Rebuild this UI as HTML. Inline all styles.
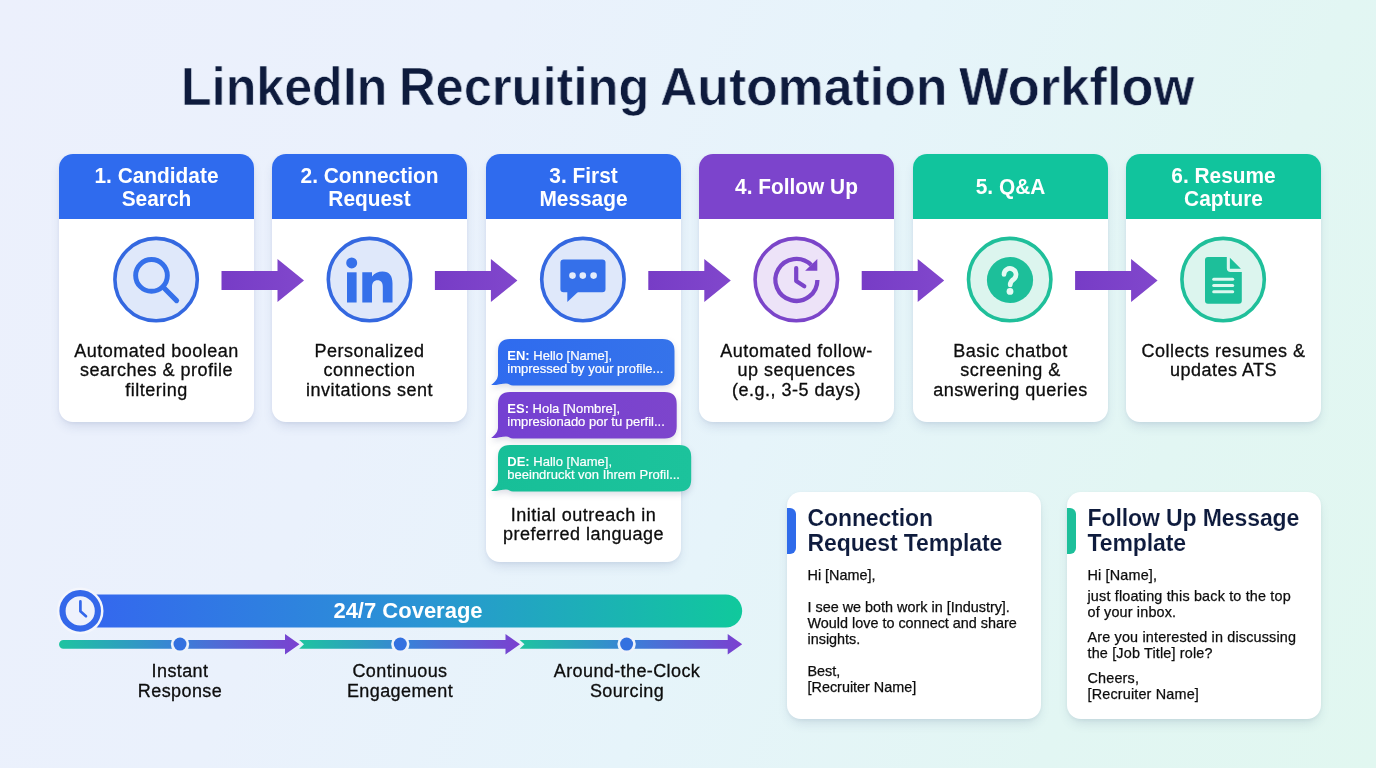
<!DOCTYPE html>
<html><head><meta charset="utf-8">
<style>
*{margin:0;padding:0;box-sizing:border-box}
html,body{width:1376px;height:768px;overflow:hidden}
body{position:relative;-webkit-font-smoothing:antialiased;font-family:"Liberation Sans",sans-serif;background:linear-gradient(112deg,#ecf0fc 0%,#eaf1fc 30%,#e6f4fa 55%,#e2f6f3 80%,#e1f7f0 100%);color:#111}
.abs{position:absolute}
body>div{will-change:transform}
.tw{position:absolute;transform-origin:0 50%;font-weight:700;color:#0e1b3d;white-space:nowrap;-webkit-text-stroke:0.7px #e9f1fb}
.card{position:absolute;top:154px;width:195px;background:#fff;border-radius:14px;box-shadow:0 6px 12px -3px rgba(50,70,130,0.17),0 1px 4px rgba(50,70,130,0.06);overflow:hidden}
.card .hd{position:absolute;left:0;top:0;width:100%;height:65px;color:#fff;font-weight:700;font-size:21px;text-align:center;line-height:22.7px}
.blue{background:#2f6bee}
.purple{background:#7c44cc}
.teal{background:#11c49d}
.desc{position:absolute;width:195px;text-align:center;color:#0d0d0d;white-space:nowrap;-webkit-text-stroke:0.3px #0d0d0d}
.tpl{position:absolute;top:492px;width:254px;height:227px;background:#fff;border-radius:14px;box-shadow:0 6px 12px -3px rgba(50,80,120,0.17),0 1px 4px rgba(50,80,120,0.06);overflow:hidden}
.tpl .bar{position:absolute;left:0;top:16px;width:9px;height:46px;border-radius:0 6px 6px 0}
.tpl .tt{position:absolute;left:20.5px;font-weight:700;color:#0e1b3d;white-space:nowrap;-webkit-text-stroke:0.12px #fff}
.tpl .bd{position:absolute;left:20.5px;color:#0d0d0d;white-space:nowrap;-webkit-text-stroke:0.25px #0d0d0d}
.bub{position:absolute;left:497.8px;height:46.6px;color:#fff;white-space:nowrap;filter:drop-shadow(0 3px 3px rgba(40,50,100,0.16))}
.bub b{font-weight:700;-webkit-text-stroke:0}
.bub div{-webkit-text-stroke:0.2px #fff}
.lbl{position:absolute;width:200px;text-align:center;color:#0d0d0d;white-space:nowrap;-webkit-text-stroke:0.3px #0d0d0d}
</style></head>
<body>
<div class="tw" style="left:180.84px;top:56.70px;font-size:54.5px;line-height:60px;transform:scaleX(0.921)">LinkedIn</div>
<div class="tw" style="left:398.81px;top:56.70px;font-size:54.5px;line-height:60px;transform:scaleX(0.929)">Recruiting</div>
<div class="tw" style="left:660.00px;top:56.70px;font-size:54.5px;line-height:60px;transform:scaleX(0.949)">Automation</div>
<div class="tw" style="left:959.30px;top:56.70px;font-size:54.5px;line-height:60px;transform:scaleX(0.964)">Workflow</div>
<div class="card" style="left:59px;height:268px"><div class="hd blue"><div style="position:absolute;left:0;width:100%;top:11.15px;font-size:22.2px;line-height:22.7px;transform:scaleX(0.94)">1. Candidate<br>Search</div></div></div>
<div class="card" style="left:272.4px;height:268px"><div class="hd blue"><div style="position:absolute;left:0;width:100%;top:11.15px;font-size:22.2px;line-height:22.7px;transform:scaleX(0.94)">2. Connection<br>Request</div></div></div>
<div class="card" style="left:485.8px;height:408px"><div class="hd blue"><div style="position:absolute;left:0;width:100%;top:11.15px;font-size:22.2px;line-height:22.7px;transform:scaleX(0.94)">3. First<br>Message</div></div></div>
<div class="card" style="left:699.2px;height:268px"><div class="hd purple"><div style="position:absolute;left:0;width:100%;top:21.95px;font-size:22.2px;line-height:22.7px;transform:scaleX(0.94)">4. Follow Up</div></div></div>
<div class="card" style="left:912.6px;height:268px"><div class="hd teal"><div style="position:absolute;left:0;width:100%;top:21.95px;font-size:22.2px;line-height:22.7px;transform:scaleX(0.94)">5. Q&amp;A</div></div></div>
<div class="card" style="left:1126px;height:268px"><div class="hd teal"><div style="position:absolute;left:0;width:100%;top:11.15px;font-size:22.2px;line-height:22.7px;transform:scaleX(0.94)">6. Resume<br>Capture</div></div></div>
<svg class="abs" style="left:0;top:0" width="1376" height="768" viewBox="0 0 1376 768">
<defs>
<linearGradient id="arr" x1="0" x2="1" y1="0" y2="0"><stop offset="0" stop-color="#773cc6"/><stop offset="1" stop-color="#8147cc"/></linearGradient>
<linearGradient id="cov" gradientUnits="userSpaceOnUse" x1="97" x2="742" y1="0" y2="0"><stop offset="0" stop-color="#3468ee"/><stop offset="0.5" stop-color="#2a94d4"/><stop offset="1" stop-color="#10c99c"/></linearGradient>
<linearGradient id="s1" gradientUnits="userSpaceOnUse" x1="59" x2="300" y1="0" y2="0"><stop offset="0" stop-color="#1ec4a0"/><stop offset="0.5" stop-color="#3a80d8"/><stop offset="1" stop-color="#7c3fd0"/></linearGradient>
<linearGradient id="s2" gradientUnits="userSpaceOnUse" x1="300" x2="520" y1="0" y2="0"><stop offset="0" stop-color="#1ec4a0"/><stop offset="0.5" stop-color="#3a80d8"/><stop offset="1" stop-color="#7c3fd0"/></linearGradient>
<linearGradient id="s3" gradientUnits="userSpaceOnUse" x1="520" x2="742" y1="0" y2="0"><stop offset="0" stop-color="#1ec4a0"/><stop offset="0.5" stop-color="#3a80d8"/><stop offset="1" stop-color="#7c3fd0"/></linearGradient>
</defs>
<path d="M221.5 271 H277.5 V259 L304.0 280.5 L277.5 302 V290 H221.5 Z" fill="url(#arr)"/>
<path d="M434.9 271 H490.9 V259 L517.4 280.5 L490.9 302 V290 H434.9 Z" fill="url(#arr)"/>
<path d="M648.3 271 H704.3 V259 L730.8 280.5 L704.3 302 V290 H648.3 Z" fill="url(#arr)"/>
<path d="M861.7 271 H917.7 V259 L944.2 280.5 L917.7 302 V290 H861.7 Z" fill="url(#arr)"/>
<path d="M1075.1 271 H1131.1 V259 L1157.6 280.5 L1131.1 302 V290 H1075.1 Z" fill="url(#arr)"/>
<circle cx="156.1" cy="279.6" r="41.2" fill="#dfe8fa" stroke="#3468e0" stroke-width="3.6"/>
<circle cx="369.5" cy="279.6" r="41.2" fill="#dfe8fa" stroke="#3468e0" stroke-width="3.6"/>
<circle cx="582.9" cy="279.6" r="41.2" fill="#dfe8fa" stroke="#3468e0" stroke-width="3.6"/>
<circle cx="796.3" cy="279.6" r="41.2" fill="#ede3f8" stroke="#7b45c9" stroke-width="3.6"/>
<circle cx="1009.7" cy="279.6" r="41.2" fill="#dcf5ee" stroke="#1fbf9a" stroke-width="3.6"/>
<circle cx="1223.1" cy="279.6" r="41.2" fill="#dcf5ee" stroke="#1fbf9a" stroke-width="3.6"/>
<circle cx="151.5" cy="275.4" r="15.85" fill="none" stroke="#3570ea" stroke-width="4.9"/>
<line x1="164.3" y1="288.3" x2="176.6" y2="300.6" stroke="#3570ea" stroke-width="5.1" stroke-linecap="round"/>
<circle cx="351.7" cy="262.9" r="5.5" fill="#3570ea"/>
<rect x="347" y="272.3" width="9.6" height="30.2" fill="#3570ea"/>
<path d="M362.3 302.5 V272.3 H372 V276.5 C374.5 273.3 378.3 271.6 382.5 271.6 C389.5 271.6 392.5 276 392.5 283.5 V302.5 H382.8 V287 C382.8 282.6 381 280.3 377.6 280.3 C374 280.3 372 282.8 372 287 V302.5 Z" fill="#3570ea"/>
<rect x="560.4" y="259.4" width="45.1" height="32.8" rx="3.2" fill="#3570ea"/>
<path d="M567.3 291 V302 L579 291 Z" fill="#3570ea"/>
<circle cx="572.5" cy="275.6" r="3.3" fill="#e4ecfb"/>
<circle cx="582.8" cy="275.6" r="3.3" fill="#e4ecfb"/>
<circle cx="593.6" cy="275.6" r="3.3" fill="#e4ecfb"/>
<path d="M817.40 279.90 A21 21 0 1 1 811.25 265.05" fill="none" stroke="#7b45c9" stroke-width="4.3"/>
<path d="M817.3 259 V270.8 H805.1 Z" fill="#7b45c9"/>
<path d="M796.2 268 V281 L804.3 286.3" fill="none" stroke="#7b45c9" stroke-width="4.2" stroke-linecap="round" stroke-linejoin="round"/>
<circle cx="1010" cy="280" r="23.1" fill="#1dbf9a"/>
<path d="M1004 274.5 A6 6 0 1 1 1014.2 278.8 Q1010.2 281.5 1010.2 285" fill="none" stroke="#e4faf3" stroke-width="4.7" stroke-linecap="round"/>
<circle cx="1010" cy="291.4" r="3.4" fill="#e4faf3"/>
<path d="M1208 257 H1226.8 V268 Q1226.8 271.9 1230.7 271.9 H1241.8 V300.8 Q1241.8 303.8 1238.8 303.8 H1208 Q1205 303.8 1205 300.8 V260 Q1205 257 1208 257 Z" fill="#1dbf9a"/>
<path d="M1229.9 257.8 V268.8 H1240.9 Z" fill="#1dbf9a"/>
<line x1="1213.7" y1="279.3" x2="1232.7" y2="279.3" stroke="#dcf8ef" stroke-width="3" stroke-linecap="round"/>
<line x1="1213.7" y1="285.5" x2="1232.7" y2="285.5" stroke="#dcf8ef" stroke-width="3" stroke-linecap="round"/>
<line x1="1213.7" y1="291.8" x2="1232.7" y2="291.8" stroke="#dcf8ef" stroke-width="3" stroke-linecap="round"/>
<path d="M92 594.4 H725.6 A16.6 16.6 0 0 1 725.6 627.6 H92 Z" fill="url(#cov)"/>
<circle cx="80.2" cy="610.9" r="23.3" fill="#f4f6fc"/>
<circle cx="80.2" cy="610.9" r="17.7" fill="#eef2fc" stroke="#3468ea" stroke-width="6.2"/>
<path d="M80.4 601.4 V611.2 L86 616.2" fill="none" stroke="#3468ea" stroke-width="2.7" stroke-linecap="round" stroke-linejoin="round"/>
<path d="M63.4 639.9 H285.0 V634.1 L299.5 644.3 L285.0 654.5 V648.7 H63.4 A4.4 4.4 0 0 1 63.4 639.9 Z" fill="url(#s1)"/>
<circle cx="180" cy="644.1" r="9.2" fill="#edf3fb"/>
<circle cx="180" cy="644.1" r="6.5" fill="#3371e0"/>
<path d="M299.2 639.9 H505.5 V634.1 L520 644.3 L505.5 654.5 V648.7 H299.2 L304.0 644.3 Z" fill="url(#s2)"/>
<circle cx="400.3" cy="644.1" r="9.2" fill="#edf3fb"/>
<circle cx="400.3" cy="644.1" r="6.5" fill="#3371e0"/>
<path d="M519.7 639.9 H727.7 V634.1 L742.2 644.3 L727.7 654.5 V648.7 H519.7 L524.5 644.3 Z" fill="url(#s3)"/>
<circle cx="626.6" cy="644.1" r="9.2" fill="#edf3fb"/>
<circle cx="626.6" cy="644.1" r="6.5" fill="#3371e0"/>
</svg>
<div class="desc" style="left:59px;top:342.11px;font-size:18px;line-height:19.3px;letter-spacing:0.5px">Automated boolean<br>searches &amp; profile<br>filtering</div>
<div class="desc" style="left:272.4px;top:342.11px;font-size:18px;line-height:19.3px;letter-spacing:0.5px">Personalized<br>connection<br>invitations sent</div>
<div class="desc" style="left:485.8px;top:505.61px;font-size:18px;line-height:19.3px;letter-spacing:0.5px">Initial outreach in<br>preferred language</div>
<div class="desc" style="left:699.2px;top:342.11px;font-size:18px;line-height:19.3px;letter-spacing:0.5px">Automated follow-<br>up sequences<br>(e.g., 3-5 days)</div>
<div class="desc" style="left:912.6px;top:342.11px;font-size:18px;line-height:19.3px;letter-spacing:0.5px">Basic chatbot<br>screening &amp;<br>answering queries</div>
<div class="desc" style="left:1126px;top:342.11px;font-size:18px;line-height:19.3px;letter-spacing:0.5px">Collects resumes &amp;<br>updates ATS</div>
<div class="bub" style="top:338.9px;width:176.5px"><svg style="position:absolute;left:0;top:0;overflow:visible" width="176.5" height="46.6"><defs><linearGradient id="bg338" x1="0" x2="1" y1="0" y2="0"><stop offset="0" stop-color="#2f6bef"/><stop offset="1" stop-color="#3573ea"/></linearGradient></defs><path d="M12 0 H164.5 Q176.5 0 176.5 12 V34.6 Q176.5 46.6 164.5 46.6 H15 C12 46.6 11 44.4 8 44.4 C4 44.4 -2 46.4 -6.8 46.0 C-2.5 42.6 0 39.6 0 35.6 V12 Q0 0 12 0 Z" fill="url(#bg338)"/></svg><div style="position:absolute;left:9.3px;top:9.84px;font-size:13px;line-height:13.3px"><b>EN:</b> Hello [Name],<br>impressed by your profile...</div></div>
<div class="bub" style="top:392px;width:178.7px"><svg style="position:absolute;left:0;top:0;overflow:visible" width="178.7" height="46.6"><defs><linearGradient id="bg392" x1="0" x2="1" y1="0" y2="0"><stop offset="0" stop-color="#7440d2"/><stop offset="1" stop-color="#7d45cc"/></linearGradient></defs><path d="M12 0 H166.7 Q178.7 0 178.7 12 V34.6 Q178.7 46.6 166.7 46.6 H15 C12 46.6 11 44.4 8 44.4 C4 44.4 -2 46.4 -6.8 46.0 C-2.5 42.6 0 39.6 0 35.6 V12 Q0 0 12 0 Z" fill="url(#bg392)"/></svg><div style="position:absolute;left:9.3px;top:9.84px;font-size:13px;line-height:13.3px"><b>ES:</b> Hola [Nombre],<br>impresionado por tu perfil...</div></div>
<div class="bub" style="top:445.1px;width:193.2px"><svg style="position:absolute;left:0;top:0;overflow:visible" width="193.2" height="46.6"><defs><linearGradient id="bg445" x1="0" x2="1" y1="0" y2="0"><stop offset="0" stop-color="#17bf98"/><stop offset="1" stop-color="#1cc39c"/></linearGradient></defs><path d="M12 0 H181.2 Q193.2 0 193.2 12 V34.6 Q193.2 46.6 181.2 46.6 H15 C12 46.6 11 44.4 8 44.4 C4 44.4 -2 46.4 -6.8 46.0 C-2.5 42.6 0 39.6 0 35.6 V12 Q0 0 12 0 Z" fill="url(#bg445)"/></svg><div style="position:absolute;left:9.3px;top:9.84px;font-size:13px;line-height:13.3px"><b>DE:</b> Hallo [Name],<br>beeindruckt von Ihrem Profil...</div></div>
<div class="tpl" style="left:787px">
<div class="bar" style="background:#2f6bea"></div>
<div class="tt" style="top:14.03px;font-size:23px;line-height:25.2px;letter-spacing:-0.1px">Connection<br>Request Template</div>
<div class="bd" style="top:74.81px;font-size:14.4px;line-height:16px;letter-spacing:0px">Hi [Name],</div>
<div class="bd" style="top:106.61px;font-size:14.4px;line-height:16px;letter-spacing:0px">I see we both work in [Industry].<br>Would love to connect and share<br>insights.</div>
<div class="bd" style="top:170.61px;font-size:14.4px;line-height:16px;letter-spacing:0px">Best,<br>[Recruiter Name]</div>
</div>
<div class="tpl" style="left:1067px">
<div class="bar" style="background:#1dbf9a"></div>
<div class="tt" style="top:14.03px;font-size:23px;line-height:25.2px;letter-spacing:-0.1px">Follow Up Message<br>Template</div>
<div class="bd" style="top:75.41px;font-size:14.4px;line-height:16px;letter-spacing:0.17px">Hi [Name],</div>
<div class="bd" style="top:96.11px;font-size:14.4px;line-height:16px;letter-spacing:0.17px">just floating this back to the top<br>of your inbox.</div>
<div class="bd" style="top:136.81px;font-size:14.4px;line-height:16px;letter-spacing:0.17px">Are you interested in discussing<br>the [Job Title] role?</div>
<div class="bd" style="top:177.51px;font-size:14.4px;line-height:16px;letter-spacing:0.17px">Cheers,<br>[Recruiter Name]</div>
</div>
<div class="abs" style="left:300px;width:216px;top:598.07px;text-align:center;color:#fff;font-weight:700;font-size:22px;line-height:26px">24/7 Coverage</div>
<div class="lbl" style="left:80px;top:661.76px;font-size:18px;line-height:19.6px;letter-spacing:0.4px">Instant<br>Response</div>
<div class="lbl" style="left:300px;top:661.76px;font-size:18px;line-height:19.6px;letter-spacing:0.4px">Continuous<br>Engagement</div>
<div class="lbl" style="left:526.8px;top:661.76px;font-size:18px;line-height:19.6px;letter-spacing:0.4px">Around-the-Clock<br>Sourcing</div>
</body></html>
